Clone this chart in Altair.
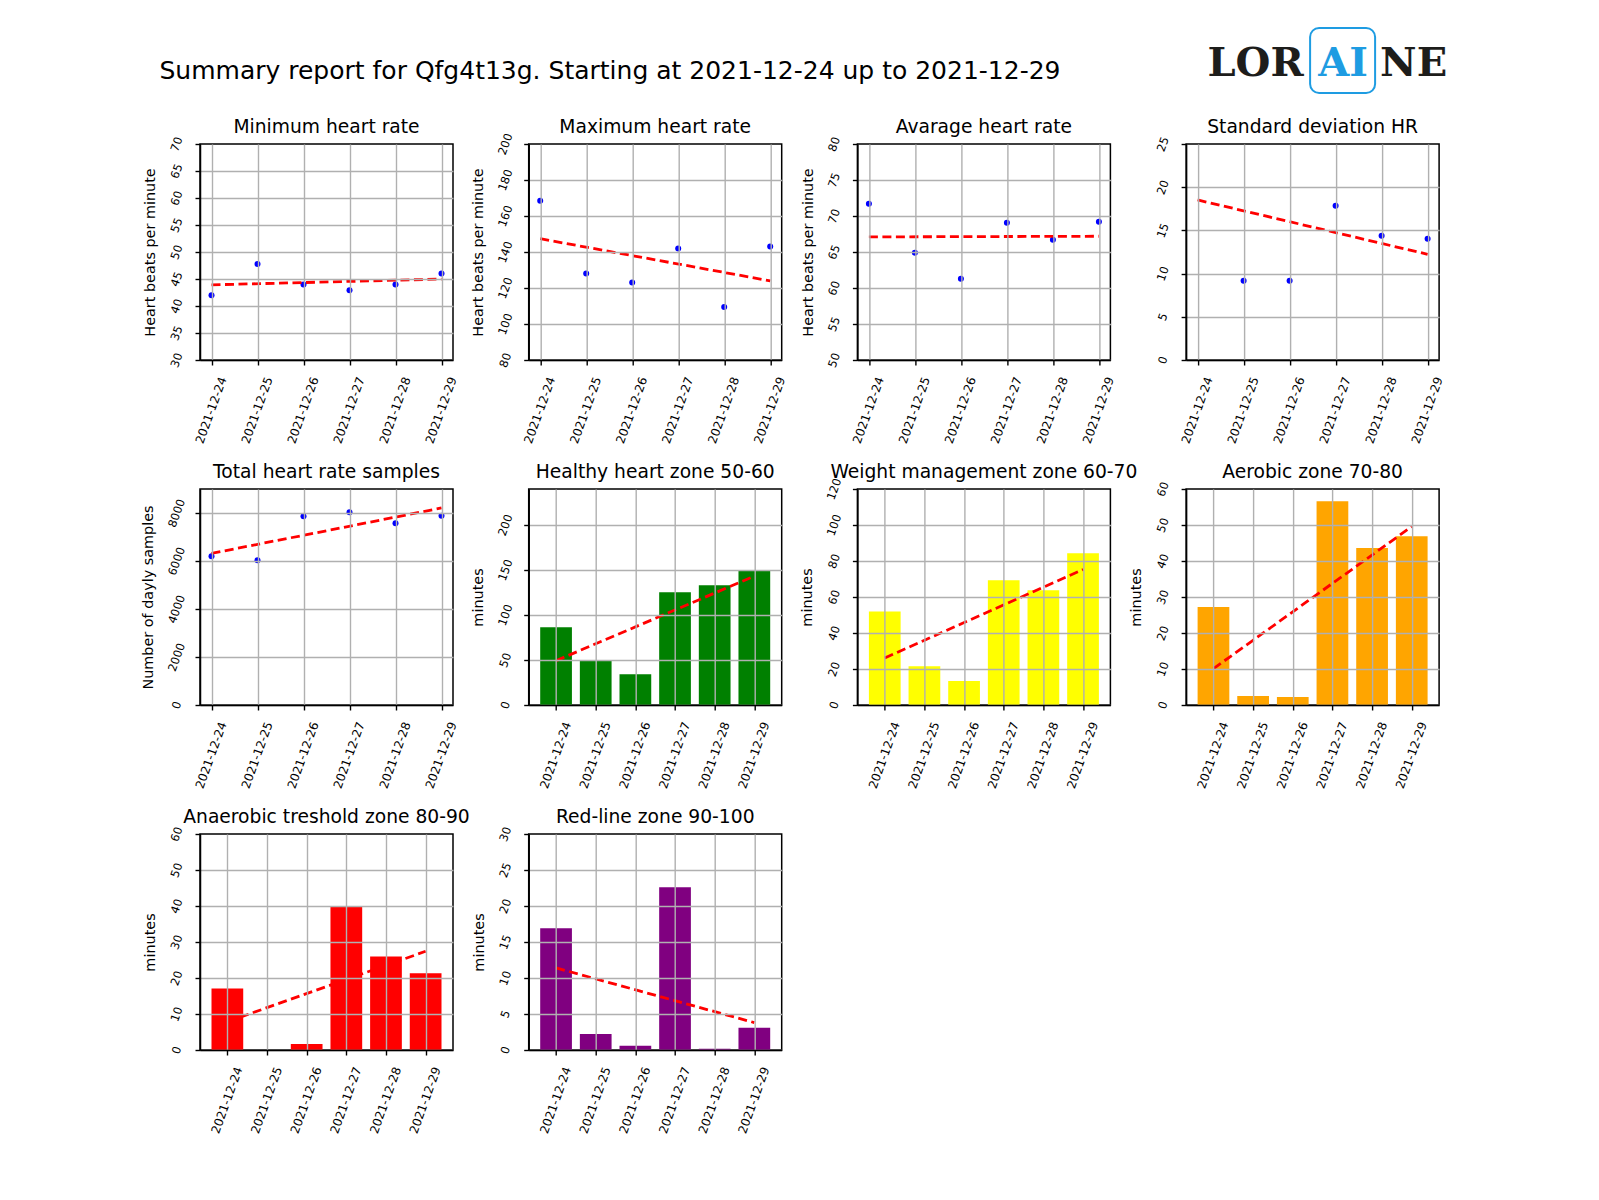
import altair as alt
import pandas as pd

# ---------------- data ----------------
dates = ["2021-12-24", "2021-12-25", "2021-12-26", "2021-12-27", "2021-12-28", "2021-12-29"]
day_index = [0, 1, 2, 3, 4, 5]

min_hr = [42.0, 47.8, 44.0, 42.9, 44.0, 46.0]
max_hr = [168.5, 128.0, 123.0, 142.0, 109.5, 143.0]
avg_hr = [71.7, 64.9, 61.3, 69.05, 66.7, 69.2]
std_hr = [27.7, 9.16, 9.16, 17.85, 14.37, 14.03]
samples = [6194, 6028, 7861, 8028, 7569, 7889]
zone_healthy = [86.3, 49.3, 34.1, 125.2, 133.0, 149.3]
zone_weight = [52.0, 21.5, 13.3, 69.3, 63.7, 84.3]
zone_aerobic = [27.2, 2.5, 2.2, 56.6, 43.6, 46.9]
zone_anaerobic = [17.1, 0.0, 1.7, 39.7, 26.0, 21.3]
zone_redline = [16.9, 2.23, 0.6, 22.6, 0.19, 3.1]

ticks_min = [30, 35, 40, 45, 50, 55, 60, 65, 70]
ticks_max = [80, 100, 120, 140, 160, 180, 200]
ticks_avg = [50, 55, 60, 65, 70, 75, 80]
ticks_std = [0, 5, 10, 15, 20, 25]
ticks_samples = [0, 2000, 4000, 6000, 8000]
ticks_healthy = [0, 50, 100, 150, 200]
ticks_weight = [0, 20, 40, 60, 80, 100, 120]
ticks_aerobic = [0, 10, 20, 30, 40, 50, 60]
ticks_anaerobic = [0, 10, 20, 30, 40, 50, 60]
ticks_redline = [0, 5, 10, 15, 20, 25, 30]

main_title = "Summary report for Qfg4t13g. Starting at 2021-12-24 up to 2021-12-29"
logo_parts = ["LOR", "AI", "NE"]

W, H = 253, 216
FONT = "DejaVu Sans"
label_expr = "[" + ",".join("'%s'" % d for d in dates) + "][datum.value]"
one_row = alt.Data(values=[{"k": 1}])


def make_panel(title, values, kind, ydomain, yticks, ytitle, color="blue"):
    df = pd.DataFrame({"idx": day_index, "v": values})
    xdom = [-0.25, 5.25] if kind == "scatter" else [-0.69, 5.69]
    xscale = alt.Scale(domain=xdom, nice=False, zero=False)
    yscale = alt.Scale(domain=ydomain, nice=False, zero=False)
    xaxis = alt.Axis(
        title=None, values=day_index, labelExpr=label_expr,
        labelAngle=-70, labelAlign="right", labelBaseline="middle",
        labelOffset=11, labelPadding=12, labelFlush=False, labelOverlap=False,
        labelFontSize=12, grid=True, zindex=1,
    )
    yaxis = alt.Axis(
        title=ytitle if ytitle else None, values=yticks, format="d",
        labelAngle=-70, labelAlign="center", labelBaseline="middle",
        labelPadding=18, titlePadding=11, labelOverlap=False, grid=True, zindex=1,
        gridOpacity={"condition": {"test": "datum.value >= %s" % ydomain[1], "value": 0}, "value": 1},
    )
    base = alt.Chart(df)
    if kind == "scatter":
        main = base.mark_circle(size=36, color="blue", opacity=1, clip=True).encode(
            x=alt.X("idx:Q", scale=xscale, axis=xaxis),
            y=alt.Y("v:Q", scale=yscale, axis=yaxis),
        )
    else:
        main = base.transform_calculate(
            x0="datum.idx - 0.4", x1="datum.idx + 0.4"
        ).mark_bar(color=color, clip=True).encode(
            x=alt.X("x0:Q", scale=xscale, axis=xaxis),
            x2="x1:Q",
            y=alt.Y("v:Q", scale=yscale, axis=yaxis),
            y2=alt.datum(0),
        )
    trend = base.transform_regression("idx", "v").mark_line(
        color="red", strokeDash=[9, 4.5], strokeWidth=2.8
    ).encode(
        x=alt.X("idx:Q", scale=xscale, axis=xaxis),
        y=alt.Y("v:Q", scale=yscale, axis=yaxis),
    )
    ttl = alt.Chart(one_row).mark_text(
        text=title, fontSize=18.7, font=FONT, align="center",
        baseline="alphabetic", color="black",
    ).encode(x=alt.value(W / 2), y=alt.value(-11.3))
    return [main, trend, ttl]


specs = [
    ("Minimum heart rate", min_hr, "scatter", [30, 70], ticks_min, "Heart beats per minute", "blue"),
    ("Maximum heart rate", max_hr, "scatter", [80, 200], ticks_max, "Heart beats per minute", "blue"),
    ("Avarage heart rate", avg_hr, "scatter", [50, 80], ticks_avg, "Heart beats per minute", "blue"),
    ("Standard deviation HR", std_hr, "scatter", [0, 25], ticks_std, "", "blue"),
    ("Total heart rate samples", samples, "scatter", [0, 9000], ticks_samples, "Number of dayly samples", "blue"),
    ("Healthy heart zone 50-60", zone_healthy, "bar", [0, 240], ticks_healthy, "minutes", "green"),
    ("Weight management zone 60-70", zone_weight, "bar", [0, 120], ticks_weight, "minutes", "#ffff00"),
    ("Aerobic zone 70-80", zone_aerobic, "bar", [0, 60], ticks_aerobic, "minutes", "orange"),
    ("Anaerobic treshold zone 80-90", zone_anaerobic, "bar", [0, 60], ticks_anaerobic, "minutes", "red"),
    ("Red-line zone 90-100", zone_redline, "bar", [0, 30], ticks_redline, "minutes", "purple"),
]

panels = []
for i, (t, vals, kind, ydom, yt, ytitle, col) in enumerate(specs):
    layers = make_panel(t, vals, kind, ydom, yt, ytitle, col)
    if i == 0:
        layers.append(
            alt.Chart(one_row).mark_text(
                text=main_title, fontSize=25, font=FONT, align="center",
                baseline="alphabetic", color="black",
            ).encode(x=alt.value(410), y=alt.value(-65))
        )
    if i == 3:
        layers.append(
            alt.Chart(one_row).mark_rect(
                cornerRadius=9, fillOpacity=0, stroke="#1e9ce2", strokeWidth=2
            ).encode(x=alt.value(124), x2=alt.value(189), y=alt.value(-116), y2=alt.value(-51))
        )
        for txt, cx, col2 in zip(logo_parts, [69.5, 157, 227.5], ["#1d1d1b", "#1e9ce2", "#1d1d1b"]):
            layers.append(
                alt.Chart(one_row).mark_text(
                    text=txt, fontSize=40, font="DejaVu Serif", fontWeight="bold",
                    align="center", baseline="alphabetic", color=col2,
                ).encode(x=alt.value(cx), y=alt.value(-68))
            )
    panels.append(alt.layer(*layers).properties(width=W, height=H))

chart = alt.concat(
    *panels, columns=4, spacing={"row": 129, "column": 75.7}, bounds="flush"
).properties(
    padding={"left": 131, "top": 18, "right": 5, "bottom": 5}
).configure(font=FONT, background="white").configure_view(
    stroke="black", strokeWidth=1.5
).configure_axis(
    labelFont=FONT, labelFontSize=11.5, labelColor="black",
    titleFont=FONT, titleFontSize=14.4, titleFontWeight="normal", titleColor="black",
    domainColor="black", domainWidth=1.5, tickColor="black", tickWidth=1.4, tickSize=5,
    gridColor="#b0b0b0", gridWidth=1.4,
)

chart.save("out.html", embed_options={"renderer": "svg", "actions": False})
